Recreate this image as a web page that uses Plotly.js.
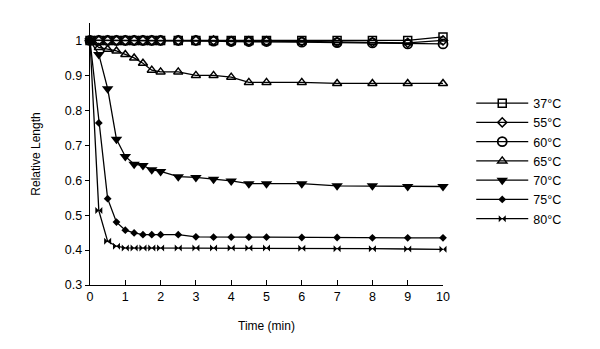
<!DOCTYPE html>
<html><head><meta charset="utf-8">
<script src="https://cdn.plot.ly/plotly-3.0.1.min.js"></script>
<style>html,body{margin:0;padding:0;background:#fff}#chart{width:600px;height:349px}</style>
</head><body><div id="chart"></div>
<script>
const times = [0,0.25,0.5,0.75,1,1.25,1.5,1.75,2,2.5,3,3.5,4,4.5,5,6,7,8,9,10];
const seriesNames = ['37°C','55°C','60°C','65°C','70°C','75°C','80°C'];
const v37 = [1,1,1,1,1,1,1,1,1,1,1,1,1,1,1,1,1,1,1,1.01];
const v55 = [1,1,1,1,1,1,1,1,1,1,1,1,0.998,0.998,0.998,0.997,0.996,0.995,0.993,1.0];
const v60 = [1,1,1,1,1,1,1,1,1,1,1,0.998,0.997,0.997,0.997,0.995,0.994,0.993,0.99,0.99];
const v65 = [1,0.98,0.975,0.97,0.96,0.95,0.935,0.915,0.91,0.91,0.9,0.9,0.895,0.88,0.88,0.88,0.877,0.877,0.877,0.877];
const v70 = [1,0.96,0.862,0.717,0.668,0.646,0.642,0.63,0.625,0.61,0.608,0.603,0.598,0.59,0.59,0.59,0.584,0.584,0.582,0.582];
const v75 = [1,0.764,0.547,0.48,0.457,0.449,0.444,0.444,0.444,0.444,0.438,0.437,0.437,0.437,0.437,0.436,0.436,0.435,0.435,0.435];
const v80 = [1,0.513,0.425,0.411,0.406,0.406,0.406,0.406,0.406,0.406,0.406,0.406,0.406,0.406,0.406,0.405,0.404,0.404,0.403,0.402];
const seriesValues = [v37,v55,v60,v65,v70,v75,v80];
const xTicks = [0,1,2,3,4,5,6,7,8,9,10];
const yTicks = [0.3,0.4,0.5,0.6,0.7,0.8,0.9,1];
const yTickText = ['0.3','0.4','0.5','0.6','0.7','0.8','0.9','1'];

const markerStyles = [
  {symbol:'square-open', size:8, line:{width:1.5,color:'#000'}, color:'#000'},
  {symbol:'diamond-open', size:7, line:{width:1.5,color:'#000'}, color:'#000'},
  {symbol:'circle-open', size:9, line:{width:1.8,color:'#000'}, color:'#000'},
  {symbol:'triangle-up-open', size:8, line:{width:1.5,color:'#000'}, color:'#000'},
  {symbol:'triangle-down', size:10, color:'#000'},
  {symbol:'diamond', size:6, color:'#000'},
  {symbol:'bowtie', size:7, color:'#000'}
];
const traces = seriesNames.map((nm, i) => ({
  x: times, y: seriesValues[i], name: nm, type:'scatter', mode:'lines+markers',
  line:{color:'#000', width:1.3}, marker: markerStyles[i], cliponaxis:false
}));
const font = {family:'"Liberation Sans", Arial, sans-serif', color:'#000', size:12};
const layout = {
  width:600, height:349,
  margin:{l:90, r:157, t:23, b:64},
  paper_bgcolor:'#fff', plot_bgcolor:'#fff',
  font: font,
  showlegend:true,
  legend:{x:1.08, xanchor:'left', y:0.75, yanchor:'top', font:{...font, size:12.5}, itemwidth:52, tracegroupgap:0, bgcolor:'rgba(0,0,0,0)'},
  xaxis:{range:[0,10], tickvals:xTicks, ticks:'inside', ticklen:5, tickcolor:'#000', showgrid:false, zeroline:false,
    showline:true, linecolor:'#000', linewidth:1.3, title:{text:'Time (min)', font:font, standoff:18}, tickfont:{...font, size:12.5}},
  yaxis:{range:[0.3,1.05], tickvals:yTicks, ticktext:yTickText, ticks:'outside', ticklen:4, tickcolor:'#000', showgrid:false, zeroline:false,
    showline:true, linecolor:'#000', linewidth:1.3, title:{text:'Relative Length', font:font, standoff:21}, tickfont:{...font, size:12.5}}
};
Plotly.newPlot('chart', traces, layout, {staticPlot:true, displayModeBar:false});
</script></body></html>
